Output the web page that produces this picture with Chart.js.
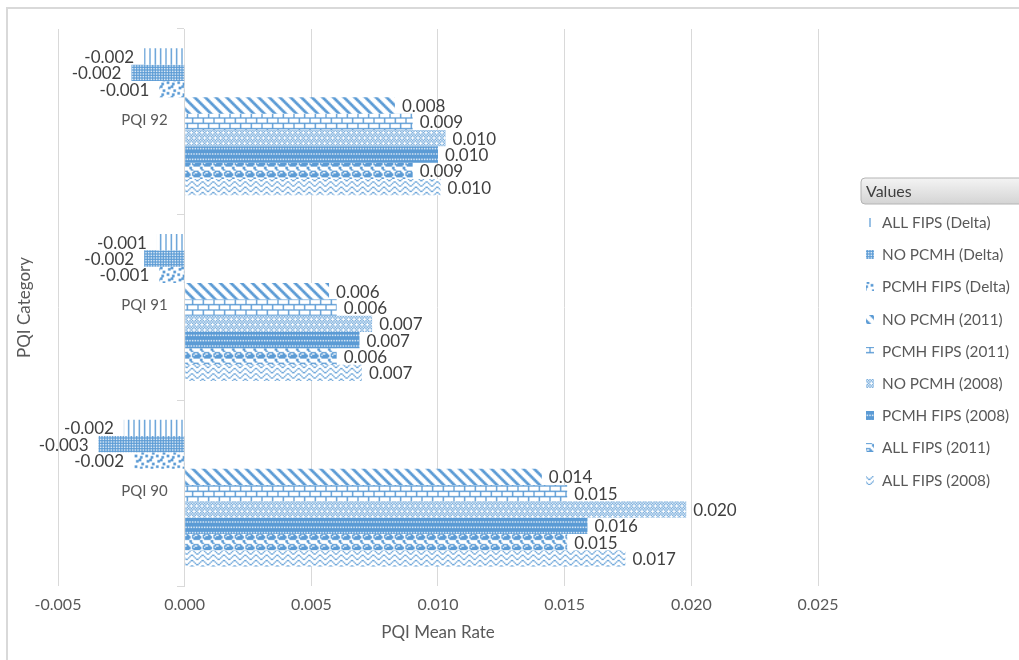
<!DOCTYPE html>
<html>
<head>
<meta charset="utf-8">
<script src="https://cdn.jsdelivr.net/npm/chart.js@4.4.1/dist/chart.umd.min.js"></script>
<style>
  html, body { margin: 0; padding: 0; background: #ffffff; overflow: hidden; }
  #frame { position: absolute; left: 6px; top: 7px; width: 1100px; height: 700px;
           border: 2px solid #d9d9d9; box-sizing: border-box; }
  #chart { position: absolute; left: 0; top: 0; }
</style>
</head>
<body>
<div id="frame"></div>
<canvas id="chart" width="1019" height="660"></canvas>
<script>
// Categories, listed top to bottom as drawn
const categories = ['PQI 92', 'PQI 91', 'PQI 90'];

// Series names (legend order, top bar of each group first)
const seriesNames = [
  'ALL FIPS (Delta)', 'NO PCMH (Delta)', 'PCMH FIPS (Delta)',
  'NO PCMH (2011)', 'PCMH FIPS (2011)', 'NO PCMH (2008)',
  'PCMH FIPS (2008)', 'ALL FIPS (2011)', 'ALL FIPS (2008)'
];

// Mean rates per series, in category order above
const allFipsDelta  = [-0.0016, -0.0011, -0.0024];
const noPcmhDelta   = [-0.0021, -0.0016, -0.0034];
const pcmhFipsDelta = [-0.0010, -0.0010, -0.0020];
const noPcmh2011    = [0.0083, 0.0057, 0.0141];
const pcmhFips2011  = [0.0090, 0.0060, 0.0151];
const noPcmh2008    = [0.0103, 0.0074, 0.0198];
const pcmhFips2008  = [0.0100, 0.0069, 0.0159];
const allFips2011   = [0.0090, 0.0060, 0.0151];
const allFips2008   = [0.0101, 0.0070, 0.0174];

// X axis range and step
const xMin = -0.005, xMax = 0.025, xStep = 0.005;

const seriesValues = [allFipsDelta, noPcmhDelta, pcmhFipsDelta, noPcmh2011,
  pcmhFips2011, noPcmh2008, pcmhFips2008, allFips2011, allFips2008];

const BLUE = '#5B9BD5';
const FONT = 'Lato, "Open Sans", sans-serif';

// 8x8 fill bitmaps, 1 = blue pixel
function diag() {
  const rows = [];
  for (let y = 0; y < 8; y++) {
    let r = '';
    for (let x = 0; x < 8; x++) r += (((x - y + 16) % 8) < 3) ? '1' : '0';
    rows.push(r);
  }
  return rows;
}
const bitmaps = [
  ['10001000','10001000','10001000','10001000','10001000','10001000','10001000','10001000'], // vertical lines
  ['11111111','10101010','11111111','10101010','11111111','10101010','11111111','10101010'], // dense grid
  ['11000000','11000011','00000011','00110000','00110000','00000110','01100110','01100000'], // confetti
  diag(),                                                                                     // wide downward diagonal
  ['11111111','10000000','10000000','10000000','11111111','00001000','00001000','00001000'], // horizontal brick
  ['10101010','01010101','10101010','01000100','10101010','01010101','10101010','00010001'], // light check
  ['11111111','11111111','11111111','10101010','11111111','11111111','11111111','01010101'], // dark dashed horizontal
  ['01111000','11001100','10111110','11111110','01111100','00000011','00000011','10000001'], // sphere
  ['10000001','01000010','00100100','00011000','10000001','01000010','00100100','00011000']  // zigzag
];

function makePattern(rows, color) {
  const c = document.createElement('canvas');
  c.width = 8; c.height = 8;
  const g = c.getContext('2d');
  g.fillStyle = '#ffffff';
  g.fillRect(0, 0, 8, 8);
  g.fillStyle = color;
  rows.forEach((r, y) => {
    for (let x = 0; x < 8; x++) if (r[x] === '1') g.fillRect(x, y, 1, 1);
  });
  const p = g.createPattern(c, 'repeat');
  p.setTransform(new DOMMatrix().scale(4 / 3));
  return p;
}
const patterns = bitmaps.map(b => makePattern(b, BLUE));

// Value labels at the outer end of each bar
const valueLabels = {
  id: 'valueLabels',
  afterDatasetsDraw(chart) {
    const ctx = chart.ctx;
    ctx.save();
    ctx.font = '17px ' + FONT;
    ctx.fillStyle = '#404040';
    ctx.textBaseline = 'middle';
    chart.data.datasets.forEach((ds, i) => {
      const meta = chart.getDatasetMeta(i);
      meta.data.forEach((bar, j) => {
        const v = ds.data[j];
        const txt = v.toFixed(3);
        if (v >= 0) {
          ctx.textAlign = 'left';
          ctx.fillText(txt, bar.x + 7, bar.y + 1);
        } else {
          ctx.textAlign = 'right';
          ctx.fillText(txt, bar.x - 10, bar.y + 1);
        }
      });
    });
    ctx.restore();
  }
};

// Category names beside the zero line, vertical axis title and the field legend
const sideText = {
  id: 'sideText',
  afterDraw(chart) {
    const ctx = chart.ctx;
    const area = chart.chartArea;
    const xs = chart.scales.x, ys = chart.scales.y;
    ctx.save();
    ctx.fillStyle = '#595959';
    ctx.font = '15px ' + FONT;
    ctx.textAlign = 'right';
    ctx.textBaseline = 'middle';
    categories.forEach((c, i) => {
      ctx.fillText(c, xs.getPixelForValue(0) - 17, ys.getPixelForValue(i) - 2);
    });

    ctx.font = '17px ' + FONT;
    ctx.textAlign = 'center';
    ctx.translate(25, (area.top + area.bottom) / 2);
    ctx.rotate(-Math.PI / 2);
    ctx.fillText('PQI Category', 0, 0);
    ctx.restore();

    // "Values" field button
    ctx.save();
    const bx = 861, by = 178, bw = 170, bh = 26, r = 4;
    const grad = ctx.createLinearGradient(0, by, 0, by + bh);
    grad.addColorStop(0, '#f4f4f4');
    grad.addColorStop(1, '#d4d4d4');
    ctx.beginPath();
    ctx.moveTo(bx + r, by);
    ctx.lineTo(bx + bw - r, by);
    ctx.arcTo(bx + bw, by, bx + bw, by + r, r);
    ctx.lineTo(bx + bw, by + bh - r);
    ctx.arcTo(bx + bw, by + bh, bx + bw - r, by + bh, r);
    ctx.lineTo(bx + r, by + bh);
    ctx.arcTo(bx, by + bh, bx, by + bh - r, r);
    ctx.lineTo(bx, by + r);
    ctx.arcTo(bx, by, bx + r, by, r);
    ctx.closePath();
    ctx.fillStyle = grad;
    ctx.fill();
    ctx.strokeStyle = '#b4b4b4';
    ctx.lineWidth = 1;
    ctx.stroke();
    ctx.fillStyle = '#404040';
    ctx.font = '16px ' + FONT;
    ctx.textAlign = 'left';
    ctx.textBaseline = 'middle';
    ctx.fillText('Values', 866, by + bh / 2 + 1);

    // legend entries
    chart.data.datasets.forEach((ds, i) => {
      const cy = 222 + i * 32.2;
      ctx.fillStyle = ds.backgroundColor;
      ctx.fillRect(866, Math.round(cy - 4), 8, 9);
      ctx.fillStyle = '#595959';
      ctx.font = '15.3px ' + FONT;
      ctx.fillText(ds.label, 882, cy + 1);
    });
    ctx.restore();
  }
};

const datasets = seriesNames.map((name, i) => ({
  label: name,
  data: seriesValues[i],
  backgroundColor: patterns[i],
  borderWidth: 0,
  categoryPercentage: 0.792,
  barPercentage: 1.0
}));

new Chart(document.getElementById('chart'), {
  type: 'bar',
  data: { labels: categories, datasets },
  options: {
    indexAxis: 'y',
    responsive: false,
    animation: false,
    devicePixelRatio: 1,
    layout: { padding: { left: 58, right: 201, top: 29, bottom: 0 } },
    plugins: { legend: { display: false }, tooltip: { enabled: false } },
    scales: {
      x: {
        type: 'linear',
        min: xMin, max: xMax,
        ticks: {
          stepSize: xStep,
          color: '#595959',
          font: { family: FONT, size: 16 },
          padding: 9,
          callback: v => Number(v).toFixed(3)
        },
        grid: { color: '#d9d9d9', drawTicks: false },
        border: { display: false },
        title: {
          display: true, text: 'PQI Mean Rate', color: '#595959',
          font: { family: FONT, size: 17 }, padding: { top: 6, bottom: 17 }
        },
        afterFit: s => { s.height = 74; }
      },
      y: {
        type: 'category',
        position: { x: 0 },
        grid: { offset: true, drawOnChartArea: false, tickLength: 7, color: '#d9d9d9' },
        border: { color: '#d9d9d9' },
        ticks: { display: false }
      }
    }
  },
  plugins: [valueLabels, sideText]
});
</script>
</body>
</html>
